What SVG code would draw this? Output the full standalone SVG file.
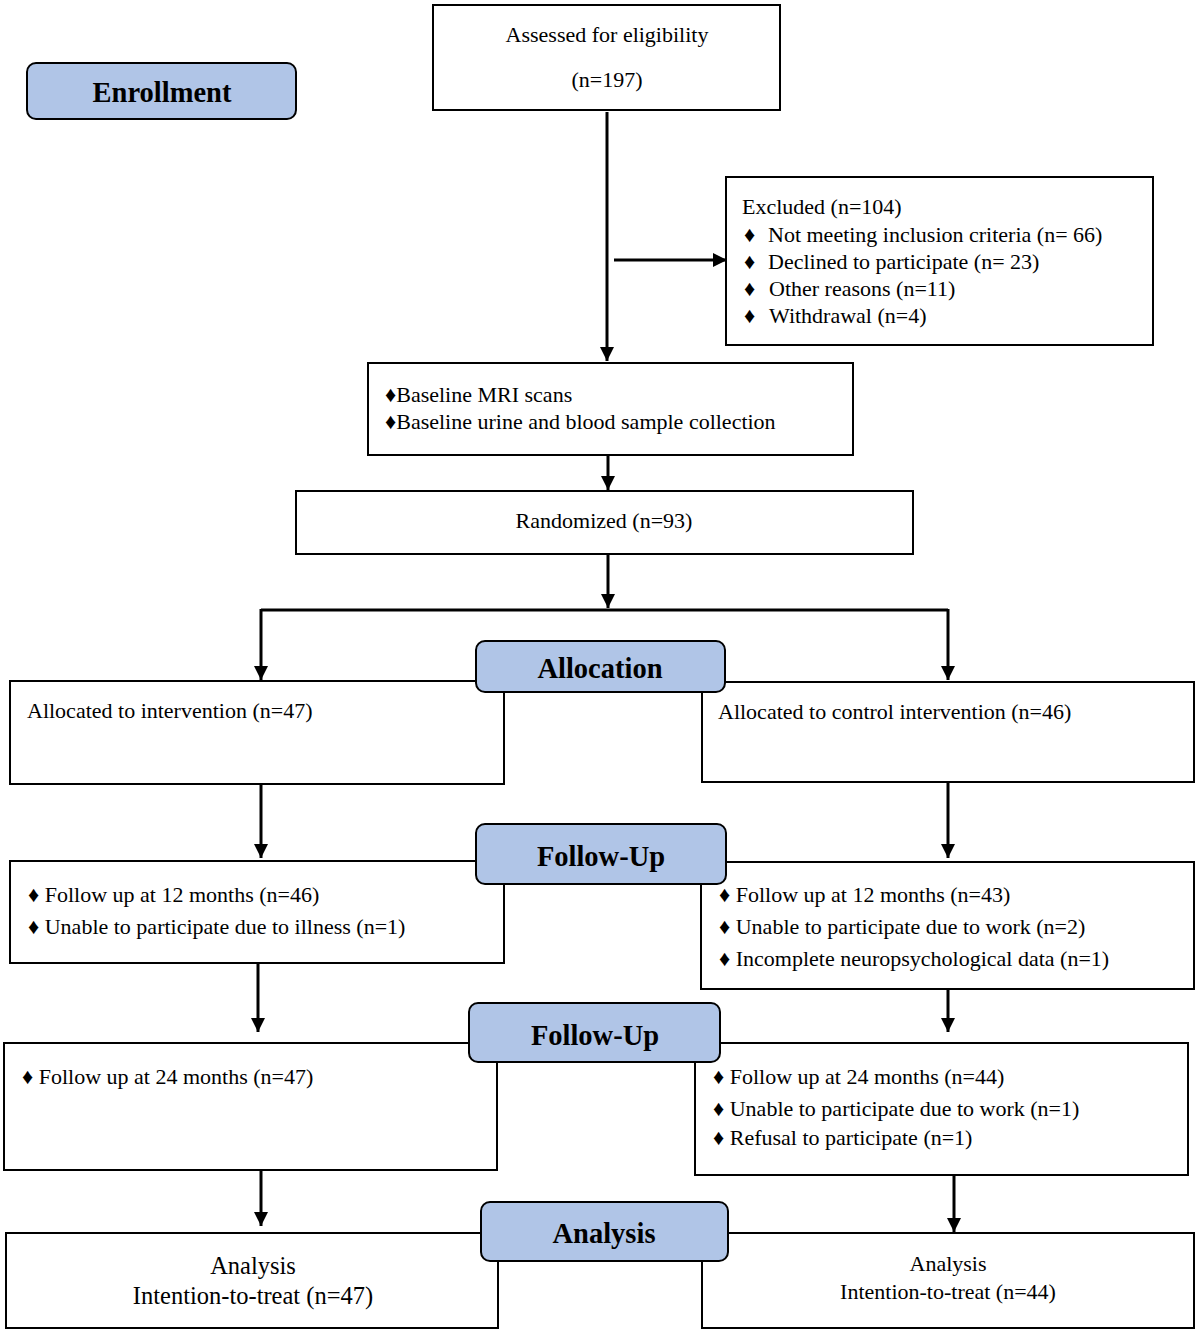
<svg xmlns="http://www.w3.org/2000/svg" width="1200" height="1334" viewBox="0 0 1200 1334">
<defs>
<style>
.box{fill:#fff;stroke:#000;stroke-width:2}
.lab{fill:#b0c5e7;stroke:#000;stroke-width:2}
.t{font-family:"Liberation Serif","Times New Roman",serif;font-size:22px;fill:#000}
.c{text-anchor:middle}
.big{font-size:24.5px}
.b{font-family:"Liberation Serif","Times New Roman",serif;font-size:28.5px;font-weight:bold;fill:#000;text-anchor:middle}
.ln{stroke:#000;stroke-width:3;fill:none}
</style>
<marker id="ah" markerUnits="userSpaceOnUse" markerWidth="16" markerHeight="16" refX="14" refY="7" orient="auto">
<path d="M0,0 L14,7 L0,14 z" fill="#000"/>
</marker>
</defs>
<rect width="1200" height="1334" fill="#fff"/>
<g id="connectors">
<path class="ln" d="M607,112 V361" marker-end="url(#ah)"/>
<path class="ln" d="M614,260 H727" marker-end="url(#ah)"/>
<path class="ln" d="M608,456 V490" marker-end="url(#ah)"/>
<path class="ln" d="M608,555 V608" marker-end="url(#ah)"/>
<path class="ln" d="M261,610 H948"/>
<path class="ln" d="M261,609 V680" marker-end="url(#ah)"/>
<path class="ln" d="M948,609 V680" marker-end="url(#ah)"/>
<path class="ln" d="M261,785 V858" marker-end="url(#ah)"/>
<path class="ln" d="M948,783 V858" marker-end="url(#ah)"/>
<path class="ln" d="M258,964 V1032" marker-end="url(#ah)"/>
<path class="ln" d="M948,990 V1032" marker-end="url(#ah)"/>
<path class="ln" d="M261,1170 V1226" marker-end="url(#ah)"/>
<path class="ln" d="M954,1176 V1232" marker-end="url(#ah)"/>
</g>
<g id="assessed"><rect class="box" x="433" y="5" width="347" height="105"/><text class="t c" x="607" y="42">Assessed for eligibility</text><text class="t c" x="607" y="87">(n=197)</text></g>
<g id="excluded"><rect class="box" x="726" y="177" width="427" height="168"/>
<text class="t" x="742" y="214">Excluded (n=104)</text>
<text class="t" x="744" y="242">♦</text><text class="t" x="768" y="242">Not meeting inclusion criteria (n= 66)</text>
<text class="t" x="744" y="269">♦</text><text class="t" x="768" y="269">Declined to participate (n= 23)</text>
<text class="t" x="744" y="296">♦</text><text class="t" x="769" y="296">Other reasons (n=11)</text>
<text class="t" x="744" y="323">♦</text><text class="t" x="769" y="323">Withdrawal (n=4)</text>
</g>
<g id="baseline"><rect class="box" x="368" y="363" width="485" height="92"/>
<text class="t" x="385" y="402">♦Baseline MRI scans</text>
<text class="t" x="385" y="429">♦Baseline urine and blood sample collection</text>
</g>
<g id="randomized"><rect class="box" x="296" y="491" width="617" height="63"/><text class="t c" x="604" y="528">Randomized (n=93)</text></g>
<g id="alloc-left"><rect class="box" x="10" y="681" width="494" height="103"/><text class="t" x="27" y="718">Allocated to intervention (n=47)</text></g>
<g id="alloc-right"><rect class="box" x="702" y="682" width="492" height="100"/><text class="t" x="718" y="719">Allocated to control intervention (n=46)</text></g>
<g id="fu12-left"><rect class="box" x="10" y="861" width="494" height="102"/>
<text class="t" x="28" y="902">♦ Follow up at 12 months (n=46)</text>
<text class="t" x="28" y="934">♦ Unable to participate due to illness (n=1)</text>
</g>
<g id="fu12-right"><rect class="box" x="701" y="862" width="493" height="127"/>
<text class="t" x="719" y="902">♦ Follow up at 12 months (n=43)</text>
<text class="t" x="719" y="934">♦ Unable to participate due to work (n=2)</text>
<text class="t" x="719" y="966">♦ Incomplete neuropsychological data (n=1)</text>
</g>
<g id="fu24-left"><rect class="box" x="4" y="1043" width="493" height="127"/>
<text class="t" x="22" y="1084">♦ Follow up at 24 months (n=47)</text>
</g>
<g id="fu24-right"><rect class="box" x="695" y="1043" width="493" height="132"/>
<text class="t" x="713" y="1084">♦ Follow up at 24 months (n=44)</text>
<text class="t" x="713" y="1116">♦ Unable to participate due to work (n=1)</text>
<text class="t" x="713" y="1145">♦ Refusal to participate (n=1)</text>
</g>
<g id="an-left"><rect class="box" x="6" y="1233" width="492" height="95"/>
<text class="t c big" x="253" y="1274">Analysis</text>
<text class="t c big" x="253" y="1304">Intention-to-treat (n=47)</text>
</g>
<g id="an-right"><rect class="box" x="702" y="1233" width="492" height="95"/>
<text class="t c" x="948" y="1271">Analysis</text>
<text class="t c" x="948" y="1299">Intention-to-treat (n=44)</text>
</g>
<g id="enrollment"><rect class="lab" x="27" y="63" width="269" height="56" rx="9"/><text class="b" x="162" y="102">Enrollment</text></g>
<g id="allocation"><rect class="lab" x="476" y="641" width="249" height="51" rx="9"/><text class="b" x="600" y="678">Allocation</text></g>
<g id="followup1"><rect class="lab" x="476" y="824" width="250" height="60" rx="9"/><text class="b" x="601" y="866">Follow-Up</text></g>
<g id="followup2"><rect class="lab" x="469" y="1003" width="251" height="59" rx="9"/><text class="b" x="595" y="1045">Follow-Up</text></g>
<g id="analysis"><rect class="lab" x="481" y="1202" width="247" height="59" rx="9"/><text class="b" x="604" y="1243">Analysis</text></g>
</svg>
